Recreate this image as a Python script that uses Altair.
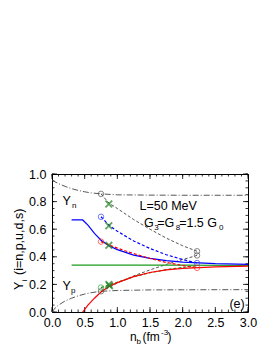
import altair as alt
import pandas as pd

# ---------------- data ----------------
# black dash-dot (nucleonic)
n_dd_x = [0.0, 0.1, 0.2, 0.3, 0.4, 0.5, 0.6, 0.75, 1.0, 1.5, 2.0, 3.0]
n_dd_y = [0.955, 0.93, 0.91, 0.894, 0.881, 0.871, 0.863, 0.856, 0.849, 0.847, 0.846, 0.846]
p_dd_x = [0.0, 0.05, 0.1, 0.2, 0.3, 0.4, 0.5, 0.6, 0.75, 1.0, 1.5, 2.0, 3.0]
p_dd_y = [0.0, 0.03, 0.05, 0.08, 0.1, 0.117, 0.13, 0.14, 0.15, 0.156, 0.16, 0.161, 0.162]
# black dashed (mixed phase)
n_da_x = [0.75, 0.87, 1.0, 1.25, 1.5, 1.75, 2.0, 2.22]
n_da_y = [0.856, 0.79, 0.75, 0.67, 0.6, 0.535, 0.48, 0.44]
p_da_x = [0.75, 1.0, 1.25, 1.5, 1.75, 2.0, 2.22]
p_da_y = [0.15, 0.21, 0.262, 0.305, 0.345, 0.38, 0.41]
# blue
u_sol_x = [0.3, 0.47, 0.55, 0.65, 0.75, 0.87, 1.0, 1.25, 1.5, 1.75, 2.0, 2.5, 3.0]
u_sol_y = [0.667, 0.667, 0.63, 0.57, 0.52, 0.48, 0.452, 0.412, 0.388, 0.372, 0.362, 0.35, 0.345]
u_da_x = [0.75, 0.87, 1.0, 1.25, 1.5, 1.75, 2.0, 2.22]
u_da_y = [0.69, 0.63, 0.585, 0.515, 0.46, 0.415, 0.38, 0.355]
# red
d_sol_x = [0.47, 0.55, 0.65, 0.75, 0.87, 1.0, 1.25, 1.5, 1.75, 2.0, 2.5, 3.0]
d_sol_y = [0.0, 0.05, 0.1, 0.145, 0.185, 0.213, 0.256, 0.286, 0.305, 0.316, 0.327, 0.332]
d_da_x = [0.75, 0.87, 1.0, 1.25, 1.5, 1.75, 2.0, 2.22]
d_da_y = [0.51, 0.487, 0.463, 0.423, 0.388, 0.359, 0.337, 0.32]
# green
s_sol_x = [0.3, 1.0, 2.0, 3.0]
s_sol_y = [0.34, 0.34, 0.339, 0.337]
s_da_x = [0.75, 1.0, 1.25, 1.5, 1.75, 2.0, 2.22]
s_da_y = [0.177, 0.215, 0.255, 0.285, 0.307, 0.323, 0.335]

# circles (open) and crosses
circ_x = [0.75, 0.75, 0.75, 0.75, 0.75, 2.22, 2.22, 2.22, 2.22]
circ_y = [0.856, 0.69, 0.51, 0.177, 0.15, 0.44, 0.41, 0.355, 0.32]
circ_c = ["#555555", "#3344ff", "#ff3333", "#33aa33", "#555555", "#555555", "#555555", "#3344ff", "#ff3333"]
cross_x = [0.87, 0.87, 0.87, 0.87, 0.88]
cross_y = [0.783, 0.625, 0.483, 0.2, 0.19]

x_major = [0.0, 0.5, 1.0, 1.5, 2.0, 2.5, 3.0]
x_minor = [i / 10 for i in range(31)]
y_major = [0.0, 0.2, 0.4, 0.6, 0.8, 1.0]
y_minor = [i / 20 for i in range(21)]

W, H = 196, 138
FONT = "Liberation Sans"

xs = alt.Scale(domain=[0, 3], nice=False)
ys = alt.Scale(domain=[0, 1], nice=False)
XAX = alt.Axis(values=x_major, format=".1f", title=None, ticks=False, domain=False, grid=False,
               labelFontSize=12.5, labelFont=FONT, labelColor="black", labelPadding=4,
               labelFlush=False, labelOverlap=False)
YAX = alt.Axis(values=y_major, format=".1f", title=None, ticks=False, domain=False, grid=False,
               labelFontSize=12.5, labelFont=FONT, labelColor="black", labelPadding=6,
               labelFlush=False, labelOverlap=False)


def X(f="x"):
    return alt.X(f + ":Q", scale=xs, axis=XAX)


def Y(f="y"):
    return alt.Y(f + ":Q", scale=ys, axis=YAX)


def line(xv, yv, color, dash=None, width=1.0):
    df = pd.DataFrame({"x": xv, "y": yv})
    kw = dict(color=color, strokeWidth=width, clip=True)
    if dash:
        kw["strokeDash"] = dash
    return alt.Chart(df).mark_line(**kw).encode(x=X(), y=Y())


layers = []


# tick marks inside frame
def xticks(vals, ln):
    df = pd.DataFrame({"x": vals})
    bot = alt.Chart(df).mark_rule(color="black", strokeWidth=0.8).encode(
        x=X(), y=alt.value(H), y2=alt.value(H - ln))
    top = alt.Chart(df).mark_rule(color="black", strokeWidth=0.8).encode(
        x=X(), y=alt.value(0), y2=alt.value(ln))
    return [bot, top]


def yticks(vals, ln):
    df = pd.DataFrame({"y": vals})
    lft = alt.Chart(df).mark_rule(color="black", strokeWidth=0.8).encode(
        y=Y(), x=alt.value(0), x2=alt.value(ln))
    rgt = alt.Chart(df).mark_rule(color="black", strokeWidth=0.8).encode(
        y=Y(), x=alt.value(W), x2=alt.value(W - ln))
    return [lft, rgt]


layers += xticks(x_major, 5) + xticks(x_minor, 2.5) + yticks(y_major, 5) + yticks(y_minor, 2.5)

# curves
DD = [6, 2, 1, 2]
layers.append(line(n_dd_x, n_dd_y, "#444444", DD, 0.9))
layers.append(line(p_dd_x, p_dd_y, "#444444", DD, 0.9))
layers.append(line(n_da_x, n_da_y, "#555555", [3, 2], 1.0))
layers.append(line(p_da_x, p_da_y, "#555555", [3, 2], 1.0))
layers.append(line(s_sol_x, s_sol_y, "#1a9a1a", None, 1.2))
layers.append(line(s_da_x, s_da_y, "#1a8a1a", [3, 2], 1.2))
layers.append(line(u_sol_x, u_sol_y, "#0000ff", None, 1.2))
layers.append(line(u_da_x, u_da_y, "#0000ff", [3, 2], 1.2))
layers.append(line(d_sol_x, d_sol_y, "#ff0000", None, 1.2))
layers.append(line(d_da_x, d_da_y, "#ff0000", [3, 2], 1.2))

cdf = pd.DataFrame({"x": circ_x, "y": circ_y, "c": circ_c})
layers.append(
    alt.Chart(cdf).mark_point(shape="circle", filled=False, size=30, strokeWidth=1).encode(
        x=X(), y=Y(), color=alt.Color("c:N", scale=None))
)
xdf = pd.DataFrame({"x": cross_x, "y": cross_y})
layers.append(
    alt.Chart(xdf).mark_point(shape="M-1,-1L1,1M1,-1L-1,1", filled=False, size=45, strokeWidth=1.8,
                              color="#1f7f1f").encode(x=X(), y=Y())
)


# text annotations (data coordinates)
def txt(x, y, s, size=12.5, align="left", baseline="alphabetic"):
    df = pd.DataFrame({"x": [x], "y": [y], "t": [s]})
    return alt.Chart(df).mark_text(font=FONT, fontSize=size, align=align, baseline=baseline,
                                   color="black").encode(x=X(), y=Y(), text="t:N")


layers.append(txt(0.162, 0.776, "Y"))
layers.append(txt(0.306, 0.752, "n", 8))
layers.append(txt(0.162, 0.158, "Y"))
layers.append(txt(0.29, 0.135, "p", 8))
layers.append(txt(1.34, 0.74, "L=50 MeV"))
layers.append(txt(1.41, 0.618, "G"))
layers.append(txt(1.565, 0.594, "3", 8))
layers.append(txt(1.61, 0.618, "=G"))
layers.append(txt(1.893, 0.594, "8", 8))
layers.append(txt(1.946, 0.618, "=1.5 G"))
layers.append(txt(2.558, 0.594, "0", 8))
layers.append(txt(2.95, 0.027, "(e)", 12.5, align="right"))


# axis titles (outside plot, pixel positions)
def ptxt(x, y, s, size=12.5, angle=0, align="left"):
    df = pd.DataFrame({"t": [s]})
    kw = dict(font=FONT, fontSize=size, align=align, baseline="alphabetic", color="black")
    if angle:
        kw["angle"] = angle
    return alt.Chart(df).mark_text(**kw).encode(x=alt.value(x), y=alt.value(y), text="t:N")


layers.append(ptxt(78, 167, "n", 12))
layers.append(ptxt(84.5, 170, "b", 8))
layers.append(ptxt(90.5, 167, "(fm", 12))
layers.append(ptxt(109, 161, "-3", 8))
layers.append(ptxt(115.5, 167, ")", 12))

layers.append(ptxt(-29, 116, "Y", angle=270))
layers.append(ptxt(-25, 107.5, "i", 8, angle=270))
layers.append(ptxt(-29, 101, "(i=n,p,u,d,s)", angle=270))

chart = alt.layer(*layers).properties(
    width=W, height=H,
    autosize=alt.AutoSizeParams(type="none"),
    padding={"left": 44, "top": 166, "right": 17, "bottom": 36},
).configure_view(stroke="black", strokeWidth=1)

chart.save("out.html", embed_options={"renderer": "svg", "actions": False})
